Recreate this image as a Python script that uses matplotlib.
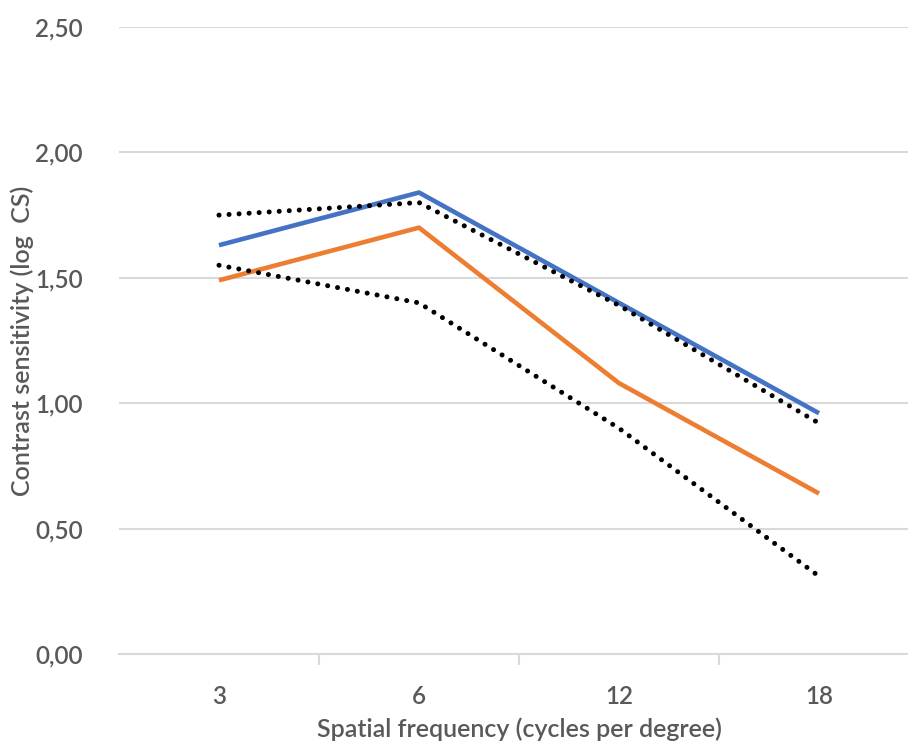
import matplotlib.pyplot as plt
from matplotlib.ticker import FixedLocator

plt.rcParams['font.family'] = ['Lato', 'DejaVu Sans']
plt.rcParams['font.weight'] = 'semibold'

categories = ["3", "6", "12", "18"]
blue_line = [1.63, 1.84, 1.40, 0.96]
orange_line = [1.49, 1.70, 1.08, 0.64]
upper_dotted = [1.75, 1.80, 1.39, 0.92]
lower_dotted = [1.55, 1.40, 0.90, 0.31]
y_ticks = [0.0, 0.5, 1.0, 1.5, 2.0, 2.5]

fig = plt.figure(figsize=(9.08, 7.45), dpi=100)
ax = fig.add_axes([119 / 908, 91 / 745, 1 - 119 / 908, (654 - 27) / 745])

x = list(range(len(categories)))
ax.plot(x, blue_line, color='#4472C4', lw=3.3, solid_capstyle='butt', zorder=3)
ax.plot(x, orange_line, color='#ED7D31', lw=3.3, solid_capstyle='butt', zorder=3)
for vals in (upper_dotted, lower_dotted):
    ax.plot(x, vals, color='black', lw=3.6, linestyle=(0, (0.01, 2.0)),
            dash_capstyle='round', zorder=4)

ax.set_ylim(0, 2.5)
ax.set_xlim(-0.5, 3.5 - 11 / 200)
ax.set_yticks(y_ticks)
ax.set_yticklabels([f"{v:.2f}".replace('.', ',') for v in y_ticks])
ax.set_xticks(x)
ax.set_xticklabels(categories)
ax.xaxis.set_minor_locator(FixedLocator([0.5, 1.5, 2.5]))

ax.grid(axis='y', color='#D9D9D9', lw=1.5)
ax.set_axisbelow(True)
for s in ('top', 'right', 'left'):
    ax.spines[s].set_visible(False)
ax.spines['bottom'].set_color('#D9D9D9')
ax.spines['bottom'].set_linewidth(1.5)

ax.tick_params(axis='y', length=0, pad=26, labelsize=17.5, labelcolor='#595959')
ax.tick_params(axis='x', which='major', length=0, pad=22, labelsize=17.5, labelcolor='#595959')
ax.tick_params(axis='x', which='minor', length=8, width=1.5, color='#D9D9D9')

fig.text(519 / 908, 16 / 745, "Spatial frequency (cycles per degree)",
         ha='center', va='center', fontsize=18, color='#595959')
fig.text(22 / 908, 0.5 * (91 + 718) / 745, "Contrast sensitivity (log  CS)", rotation=90,
         ha='center', va='center', fontsize=18, color='#595959')

fig.savefig("out.png", dpi=100)
